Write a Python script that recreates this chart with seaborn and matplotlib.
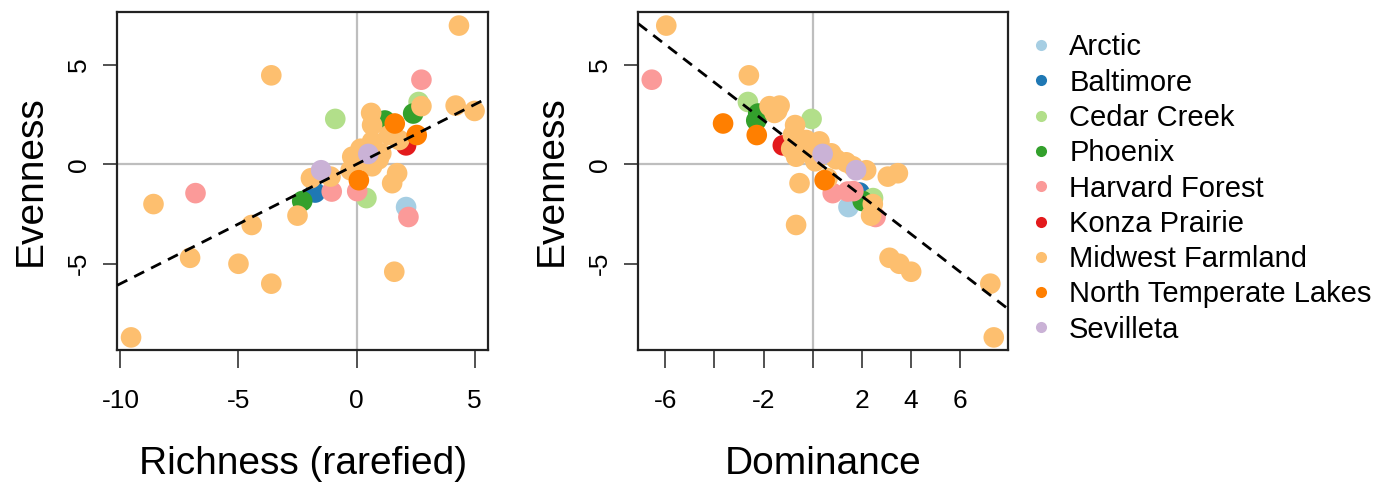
import numpy as np
import pandas as pd
import matplotlib
matplotlib.use("Agg")
import matplotlib.pyplot as plt
from matplotlib.lines import Line2D
import seaborn as sns

sns.set_theme(style="white")
plt.rcParams["font.family"] = ["Liberation Sans", "DejaVu Sans"]
plt.rcParams["axes.unicode_minus"] = False
plt.rcParams["text.color"] = "black"
plt.rcParams["axes.labelcolor"] = "black"

# Site names in legend order and their colours
sites = ["Arctic", "Baltimore", "Cedar Creek", "Phoenix", "Harvard Forest",
         "Konza Prairie", "Midwest Farmland", "North Temperate Lakes", "Sevilleta"]
site_colors = ["#A6CEE3", "#1F78B4", "#B2DF8A", "#33A02C", "#FB9A99",
               "#E31A1C", "#FDBF6F", "#FF7F00", "#CAB2D6"]

# One entry per plot: site, rarefied richness, evenness and dominance
site = (["Arctic"]
        + ["Baltimore"]
        + ["Cedar Creek"] * 3
        + ["Phoenix"] * 3
        + ["Harvard Forest"] * 5
        + ["Konza Prairie"]
        + ["Midwest Farmland"] * 31
        + ["North Temperate Lakes"] * 3
        + ["Sevilleta"] * 2)

richness = [2.10,
            -1.75,
            -0.90, 2.63, 0.42,
            1.20, 2.40, -2.30,
            2.75, -6.82, -1.05, 0.03, 2.20,
            2.10,
            4.34, -3.61, 4.20, 5.00, 2.75, 0.62, 0.66, 1.38, 1.81, 0.66,
            0.17, -0.18, 0.30, 0.94, 0.70, 0.66, -0.25, -1.10, 1.72, -1.93,
            1.51, -8.60, -2.50, -4.44, -7.05, -5.00, 1.60, -3.61, -9.55,
            0.05, 1.05,
            1.62, 2.55, 0.10,
            0.50, -1.50]

evenness = [-2.15,
            -1.42,
            2.28, 3.13, -1.70,
            2.20, 2.55, -1.85,
            4.25, -1.45, -1.37, -1.35, -2.65,
            0.95,
            6.97, 4.47, 2.95, 2.68, 2.92, 2.58, 1.97, 1.47, 1.22, 1.15,
            0.78, 0.38, 0.60, 0.25, 0.10, -0.10, -0.30, -0.62, -0.45, -0.70,
            -0.95, -2.00, -2.58, -3.05, -4.70, -5.00, -5.40, -6.00, -8.70,
            0.15, 0.55,
            2.05, 1.47, -0.80,
            0.52, -0.30]

dominance = [1.45,
             1.90,
             -0.05, -2.64, 2.45,
             -2.30, -2.22, 2.03,
             -6.55, 0.81, 1.42, 1.65, 2.55,
             -1.22,
             -5.96, -2.60, -1.35, -1.45, -1.76, -1.56, -0.72, -0.81, -0.27, 0.27,
             -0.88, -0.68, -0.20, 0.95, 1.36, 1.63, 2.17, 3.05, 3.46, 0.60,
             -0.54, 2.44, 2.37, -0.68, 3.12, 3.52, 4.00, 7.22, 7.36,
             0.10, 0.75,
             -3.65, -2.28, 0.48,
             0.40, 1.76]

# Fitted trend lines (slope, intercept)
richness_fit = (0.60, 0.00)
dominance_fit = (-0.953, 0.30)

df = pd.DataFrame({"Site": site, "Richness": richness,
                   "Evenness": evenness, "Dominance": dominance})
df["Site"] = pd.Categorical(df["Site"], categories=sites, ordered=True)
df = df.sort_values("Site", kind="stable")
palette = dict(zip(sites, site_colors))

fig = plt.figure(figsize=(13.89, 4.82), dpi=100)
ax1 = fig.add_axes([0.0845, 0.274, 0.267, 0.701])
ax2 = fig.add_axes([0.4595, 0.274, 0.2664, 0.701])

panels = [
    (ax1, "Richness", "Richness (rarefied)", richness_fit, (-10.13, 5.58),
     [-10, -5, 0, 5], ["-10", "-5", "0", "5"]),
    (ax2, "Dominance", "Dominance", dominance_fit, (-7.10, 7.95),
     [-6, -4, -2, 0, 2, 4, 6], ["-6", "", "-2", "", "2", "4", "6"]),
]

for ax, xcol, xlabel, (slope, icpt), xlim, xt, xtl in panels:
    ax.axhline(0, color="#BEBEBE", lw=1.6, zorder=1)
    ax.axvline(0, color="#BEBEBE", lw=1.6, zorder=1)
    sns.scatterplot(data=df, x=xcol, y="Evenness", hue="Site", hue_order=sites,
                    palette=palette, s=220, linewidth=0, alpha=1,
                    legend=False, ax=ax, zorder=3)
    ax.axline((0, icpt), slope=slope, color="black", lw=2.0,
              linestyle=(0, (4, 2.8)), zorder=4)
    ax.set_xlim(*xlim)
    ax.set_ylim(-9.33, 7.65)
    ax.set_xticks(xt)
    ax.set_xticklabels(xtl)
    ax.set_yticks([-5, 0, 5])
    ax.set_yticklabels(["-5", "0", "5"])
    for lab in ax.get_yticklabels():
        lab.set_rotation(90)
        lab.set_va("center")
    ax.tick_params(axis="x", direction="out", length=13, width=1.2,
                   color="#333333", labelsize=19, pad=15, labelcolor="black",
                   bottom=True)
    ax.tick_params(axis="y", direction="out", length=10, width=1.2,
                   color="#333333", labelsize=19, pad=9, labelcolor="black",
                   left=True)
    for sp in ax.spines.values():
        sp.set_color("#222222")
        sp.set_linewidth(1.6)
    ax.set_xlabel(xlabel, fontsize=28, labelpad=24, color="black")
    ax.set_ylabel("Evenness", fontsize=28, labelpad=13, color="black")
    ax.set_facecolor("white")

handles = [Line2D([0], [0], marker="o", linestyle="", markersize=8,
                  markerfacecolor=c, markeredgewidth=0) for c in site_colors]
fig.legend(handles, sites, loc="upper left", bbox_to_anchor=(0.733, 0.955),
           frameon=False, fontsize=21, handlelength=0.8, handletextpad=0.55,
           labelspacing=0.25, borderaxespad=0, labelcolor="black")

fig.savefig("out.png", dpi=100, facecolor="white")
